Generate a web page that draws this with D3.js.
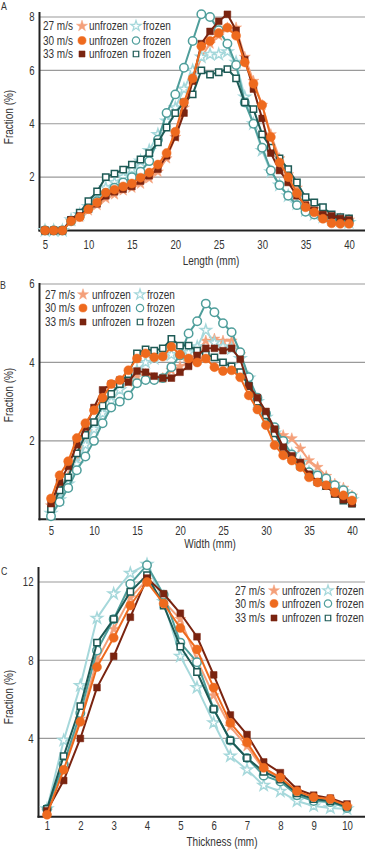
<!DOCTYPE html>
<html><head><meta charset="utf-8">
<script src="https://cdn.jsdelivr.net/npm/d3@7"></script>
<style>
body{margin:0;background:#fff}
svg{display:block}
text{font-family:"Liberation Sans",Arial,sans-serif;fill:#333}
</style></head>
<body><svg width="368" height="850"></svg>
<script>
// ---------- DATA ----------
const lengthMM = [5,6,7,8,9,10,11,12,13,14,15,16,17,18,19,20,21,22,23,24,25,26,27,28,29,30,31,32,33,34,35,36,37,38,39,40];
const widthMM  = [5,6,7,8,9,10,11,12,13,14,15,16,17,18,19,20,21,22,23,24,25,26,27,28,29,30,31,32,33,34,35,36,37,38,39,40];
const thicknessMM = [1,1.5,2,2.5,3,3.5,4,4.5,5,5.5,6,6.5,7,7.5,8,8.5,9,9.5,10];

const lenTicks = [5,10,15,20,25,30,35,40];
const widTicks = [5,10,15,20,25,30,35,40];
const thkTicks = [1,2,3,4,5,6,7,8,9,10];
const lenYTicks = [2,4,6,8];
const widYTicks = [2,4,6];
const thkYTicks = [4,8,12];

const speeds = ["27 m/s","30 m/s","33 m/s"];

// Length (panel A)
const lenU27 = [0,0,0,0.35,0.5,0.75,0.95,1.2,1.35,1.5,1.6,1.75,1.95,2.2,2.7,3.5,4.6,5.6,6.5,7.0,7.3,7.6,7.6,6.5,5.6,4.7,3.6,2.7,2.1,1.6,1.1,0.8,0.6,0.5,0.45,0.4];
const lenF27 = [0,0,0,0.4,0.6,0.9,1.2,1.6,1.8,2.0,2.3,2.6,3.0,3.6,4.1,4.6,5.3,6.0,6.5,6.6,6.6,6.7,6.3,5.0,4.0,3.0,2.2,1.7,1.3,1.0,0.75,0.6,0.5,0.4,0.35,0.3];
const lenU30 = [0,0,0,0.35,0.5,0.8,1.05,1.42,1.53,1.65,1.76,1.98,2.17,2.47,2.9,3.7,4.8,5.7,6.9,7.1,7.4,7.6,7.3,6.3,5.5,4.7,3.5,2.55,2.0,1.4,0.87,0.68,0.44,0.27,0.25,0.25];
const lenF30 = [0,0,0,0.35,0.55,0.85,1.1,1.4,1.6,1.8,2.0,2.2,2.6,3.4,4.4,5.1,6.1,7.1,8.1,8.0,7.5,7.0,6.2,4.8,4.0,3.1,2.25,1.7,1.3,0.95,0.7,0.6,0.5,0.45,0.4,0.35];
const lenU33 = [0,0,0,0.4,0.55,0.8,1.0,1.3,1.45,1.55,1.65,1.85,2.05,2.3,2.8,3.5,4.4,5.6,7.0,7.46,7.84,8.1,7.5,6.4,5.3,4.2,2.9,2.25,1.8,1.3,0.95,0.75,0.6,0.55,0.45,0.4];
const lenF33 = [0,0,0,0.4,0.67,1.1,1.46,2.0,2.13,2.28,2.47,2.66,2.9,3.3,3.86,4.4,4.8,5.1,6.0,5.84,5.93,6.05,5.7,4.8,4.55,3.6,3.1,2.7,2.3,1.8,1.25,1.05,0.87,0.6,0.5,0.45];

// Width (panel B)
const widU27 = [0.35,0.8,1.1,1.6,2.0,2.4,2.7,3.0,3.3,3.5,3.65,3.7,3.6,3.6,3.8,3.9,4.0,4.3,4.55,4.6,4.55,4.55,4.2,3.6,3.0,2.6,2.27,2.14,2.06,1.8,1.5,1.33,1.1,0.9,0.8,0.6];
const widF27 = [0.15,0.5,0.9,1.4,1.9,2.3,2.7,3.0,3.3,3.55,3.8,4.0,4.1,4.2,4.2,4.2,4.25,4.4,4.82,4.5,4.4,4.35,4.1,3.6,3.0,2.6,2.2,1.9,1.65,1.45,1.2,1.05,0.9,0.8,0.7,0.5];
const widU30 = [0.53,1.12,1.48,2.07,2.45,2.78,3.1,3.45,3.55,3.8,4.1,4.23,4.13,4.15,4.4,4.2,4.1,4.0,4.1,3.88,3.78,3.8,3.62,3.16,2.8,2.4,1.89,1.63,1.5,1.33,1.07,0.94,0.87,0.69,0.61,0.48];
const widF30 = [0.08,0.44,0.8,1.25,1.6,2.0,2.45,2.85,3.0,3.16,3.47,3.55,3.55,3.6,3.88,4.18,4.74,5.05,5.5,5.28,5.0,4.77,4.26,3.62,3.1,2.7,2.35,2.0,1.65,1.4,1.2,1.12,1.04,0.87,0.74,0.58];
const widU33 = [0.4,0.95,1.35,1.9,2.35,2.85,3.3,3.45,3.55,3.5,3.78,3.75,3.65,3.6,3.6,3.75,3.9,4.18,4.36,4.36,4.3,4.36,4.08,3.4,3.1,2.75,2.3,1.84,1.62,1.45,1.15,0.95,0.85,0.65,0.5,0.4];
const widF33 = [0.26,0.74,1.07,1.68,2.15,2.48,2.9,3.2,3.45,3.7,4.23,4.33,4.3,4.36,4.6,4.43,4.43,4.3,4.2,4.13,4.0,3.9,3.75,3.4,3.0,2.65,2.19,1.8,1.58,1.35,1.12,0.95,0.85,0.65,0.48,0.4];

// Thickness (panel C)
const thkU27 = [0.3,2.6,5.0,8.0,9.6,11.2,12.1,11.0,10.1,8.0,6.2,4.6,3.6,2.4,2.0,1.2,0.9,0.8,0.5];
const thkF27 = [0.4,3.9,6.7,10.15,11.4,12.45,12.9,11.0,8.2,6.6,4.8,3.1,2.4,1.6,1.3,0.8,0.55,0.45,0.4];
const thkU30 = [0.1,2.4,4.85,7.65,9.15,10.8,12.0,10.9,9.65,8.55,6.6,4.8,3.8,2.5,2.0,1.3,1.0,0.9,0.55];
const thkF30 = [0.4,2.7,5.3,8.5,10.1,11.9,12.86,11.35,8.9,7.9,5.5,3.9,3.0,2.1,1.8,1.1,0.8,0.75,0.45];
const thkU33 = [0.3,1.85,4.0,6.6,8.2,10.2,12.2,11.4,10.4,9.2,7.25,5.2,4.2,2.8,2.25,1.4,1.1,0.95,0.65];
const thkF33 = [0.4,3.1,5.65,8.9,10.1,11.5,12.35,10.8,8.7,7.4,5.5,3.9,3.0,2.3,1.9,1.2,0.9,0.8,0.5];

// ---------- STYLE ----------
const styles = {
  u27:{color:"#F4A07A", type:d3.symbolStar,   size:38, filled:true},
  f27:{color:"#A6D8DB", type:d3.symbolStar,   size:38, filled:false},
  u30:{color:"#EE6A1E", type:d3.symbolCircle, size:64, filled:true},
  f30:{color:"#4F9E9B", type:d3.symbolCircle, size:56, filled:false},
  u33:{color:"#7A2410", type:d3.symbolSquare, size:46, filled:true},
  f33:{color:"#1D5A55", type:d3.symbolSquare, size:40, filled:false}
};
const drawOrder = ["u27","f27","f30","f33","u33","u30"];
const legendRows = [["u27","f27"],["u30","f30"],["u33","f33"]];
const NARROW = 0.8;

const svg = d3.select("svg");

function drawPanel(cfg){
  const g = svg.append("g");
  const x = d3.scaleLinear().domain(cfg.xDomain).range(cfg.xRange);
  const y = d3.scaleLinear().domain(cfg.yDomain).range(cfg.yRange);
  const right = 365;

  g.selectAll(".grid").data(cfg.yTicks).join("line")
    .attr("x1", cfg.xAxisLeft).attr("x2", right)
    .attr("y1", d=>y(d)).attr("y2", d=>y(d))
    .attr("stroke","#9a9a9a").attr("stroke-width",1.2);

  const ya = d3.axisLeft(y).tickValues(cfg.yTicks).tickSize(0).tickPadding(5).tickFormat(d3.format("d"));
  const yg = g.append("g").attr("transform",`translate(${cfg.xAxisLeft},0)`).call(ya);
  yg.select(".domain").remove();
  yg.selectAll("text").attr("font-size",12).attr("fill","#333");
  yg.attr("font-family",null);

  const xa = d3.axisBottom(x).tickValues(cfg.xTicks).tickSize(0).tickPadding(0).tickFormat(d3.format("d"));
  const xg = g.append("g").attr("transform",`translate(0,${cfg.tickBase})`).call(xa);
  xg.select(".domain").remove();
  xg.selectAll("text").attr("font-size",12).attr("dy",0).attr("y",0).attr("fill","#333");
  xg.attr("font-family",null);

  g.append("line").attr("x1",cfg.xAxisLeft).attr("x2",cfg.xAxisLeft)
    .attr("y1",cfg.axisTop).attr("y2",y(0)+1).attr("stroke","#222").attr("stroke-width",2);
  g.append("line").attr("x1",cfg.xAxisLeft-1).attr("x2",right)
    .attr("y1",y(0)).attr("y2",y(0)).attr("stroke","#222").attr("stroke-width",2);

  g.append("text").attr("x",cfg.xTitle[0]).attr("y",cfg.xTitle[1]).attr("text-anchor","middle")
    .attr("font-size",12.5).text(cfg.xLabel);
  g.append("text").attr("transform",`translate(13,${cfg.yTitleY}) rotate(-90)`).attr("text-anchor","middle")
    .attr("font-size",12.5).text("Fraction (%)");
  g.append("text").attr("x",cfg.letter[0]).attr("y",cfg.letter[1]).attr("font-size",11).text(cfg.letterText);

  const line = d3.line().x(d=>x(d[0])).y(d=>y(d[1]));
  drawOrder.forEach(k=>{
    const st = styles[k];
    const pts = cfg.xs.map((xv,i)=>[xv, cfg.series[k][i]]);
    g.append("path").attr("d",line(pts)).attr("fill","none")
      .attr("stroke",st.color).attr("stroke-width",2).attr("stroke-linejoin","round");
    g.selectAll(null).data(pts).join("path")
      .attr("transform",d=>`translate(${x(d[0])},${y(d[1])})`)
      .attr("d",d3.symbol().type(st.type).size(st.size))
      .attr("fill",st.filled?st.color:"#fff")
      .attr("stroke",st.color).attr("stroke-width",st.filled?0.5:1.5);
  });

  const L = cfg.legend;
  legendRows.forEach((row,i)=>{
    const cy = L.rows[i];
    g.append("text").attr("x",L.cols[0]).attr("y",cy+4.5).attr("font-size",12.5).attr("fill","#222").text(speeds[i]);
    const su = styles[row[0]], sf = styles[row[1]];
    g.append("path").attr("transform",`translate(${L.cols[1]},${cy})`)
      .attr("d",d3.symbol().type(su.type).size(su.type===d3.symbolStar?38:su.size*0.8))
      .attr("fill",su.color).attr("stroke",su.color).attr("stroke-width",0.5);
    g.append("text").attr("x",L.cols[2]).attr("y",cy+4.5).attr("font-size",12.5).attr("fill","#222").text("unfrozen");
    g.append("path").attr("transform",`translate(${L.cols[3]},${cy})`)
      .attr("d",d3.symbol().type(sf.type).size(sf.type===d3.symbolStar?34:sf.size*0.75))
      .attr("fill","#fff").attr("stroke",sf.color).attr("stroke-width",1.2);
    g.append("text").attr("x",L.cols[4]).attr("y",cy+4.5).attr("font-size",12.5).attr("fill","#222").text("frozen");
  });
}

drawPanel({
  letterText:"A", letter:[1,10],
  xs:lengthMM, xDomain:[5,40], xRange:[45,349], xTicks:lenTicks,
  yDomain:[0,8], yRange:[230.5,17], yTicks:lenYTicks,
  xAxisLeft:39.5, axisTop:12, tickBase:249,
  xLabel:"Length (mm)", xTitle:[211,265], yTitleY:117,
  series:{u27:lenU27,f27:lenF27,u30:lenU30,f30:lenF30,u33:lenU33,f33:lenF33},
  legend:{cols:[43,82,89,136,143], rows:[26,40.5,54]}
});
drawPanel({
  letterText:"B", letter:[0,289],
  xs:widthMM, xDomain:[5,40], xRange:[51,352], xTicks:widTicks,
  yDomain:[0,6], yRange:[519.3,284], yTicks:widYTicks,
  xAxisLeft:39.5, axisTop:283, tickBase:535,
  xLabel:"Width (mm)", xTitle:[210,548], yTitleY:395,
  series:{u27:widU27,f27:widF27,u30:widU30,f30:widF30,u33:widU33,f33:widF33},
  legend:{cols:[45,83,92,140,147], rows:[294.5,308,322]}
});
drawPanel({
  letterText:"C", letter:[1,575],
  xs:thicknessMM, xDomain:[1,10], xRange:[47,347], xTicks:thkTicks,
  yDomain:[0,12], yRange:[816.7,582], yTicks:thkYTicks,
  xAxisLeft:38.5, axisTop:567, tickBase:830,
  xLabel:"Thickness (mm)", xTitle:[222,846], yTitleY:697,
  series:{u27:thkU27,f27:thkF27,u30:thkU30,f30:thkF30,u33:thkU33,f33:thkF33},
  legend:{cols:[235,274,282,328,336], rows:[590.5,603.5,618]}
});

// condensed look: compress every text horizontally about its anchor
svg.selectAll("text").each(function(){
  const t = d3.select(this);
  const tr = t.attr("transform");
  if (tr) {
    t.attr("transform", tr + ` scale(${NARROW},1)`);
  } else {
    const ax = +(t.attr("x") || 0);
    t.attr("transform", `translate(${ax},0) scale(${NARROW},1) translate(${-ax},0)`);
  }
});
</script>
</body></html>
